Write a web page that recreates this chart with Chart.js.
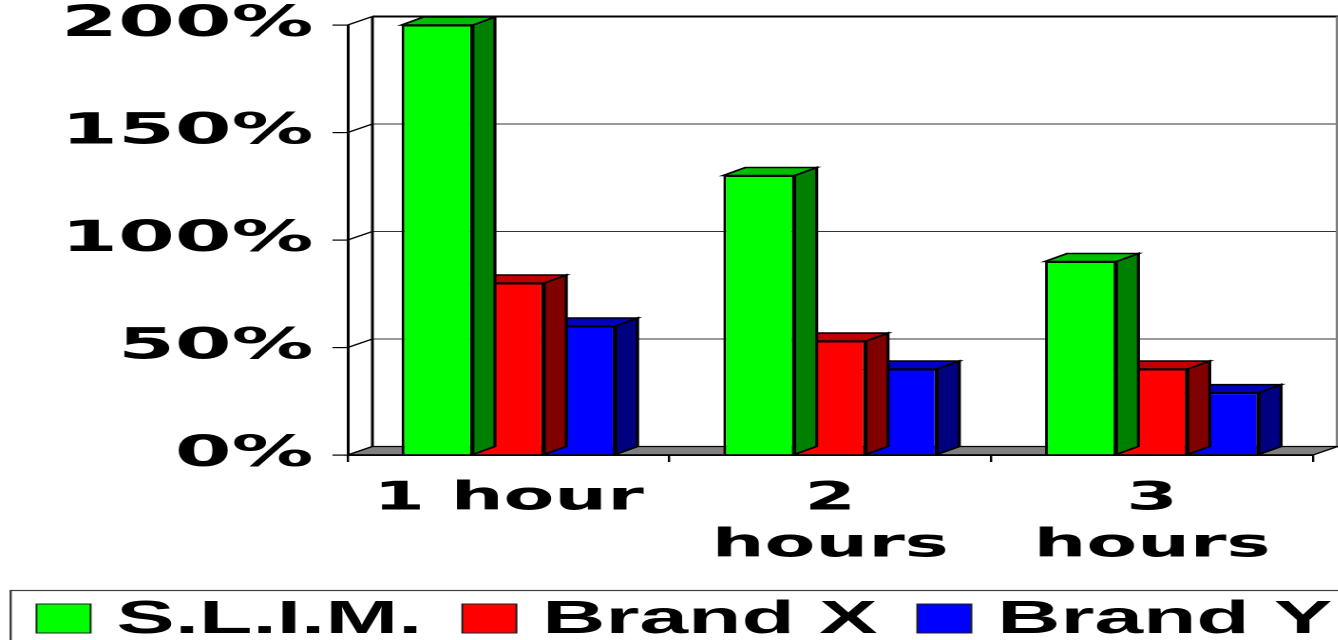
<!DOCTYPE html>
<html>
<head>
<meta charset="utf-8">
<title>S.L.I.M. vs Brand X vs Brand Y</title>
<script src="https://cdn.jsdelivr.net/npm/chart.js@4.4.1/dist/chart.umd.min.js"></script>
<style>
    html, body { margin: 0; padding: 0; background: #fff; overflow: hidden; }
    /* the reference is a 3D office chart stretched wide, so draw narrow and stretch */
    .chart-wrap { position: relative; width: 704.2px; height: 640px; transform: scaleX(1.9); transform-origin: 0 0; }
</style>
</head>
<body>
<div class="chart-wrap"><canvas id="hoursChart"></canvas></div>
<script>
var categories = ['1 hour', '2 hours', '3 hours'];
var seriesNames = ['S.L.I.M.', 'Brand X', 'Brand Y'];
var slimValues = [200, 130, 90];
var brandXValues = [80, 53, 40];
var brandYValues = [60, 40, 29];
var yTicks = [0, 50, 100, 150, 200];

(function() {
    'use strict';

    var frontColors = ['#00ff00', '#ff0000', '#0000ff'];
    var topColors = ['#00bf00', '#c00000', '#0000c0'];
    var sideColors = ['#008000', '#800000', '#000080'];

    var barDepth = { dx: 11.6, dy: -8 };
    var wallDepth = { dx: 13, dy: -8.5 };

    function poly(ctx, pts, fill) {
        ctx.beginPath();
        ctx.moveTo(pts[0][0], pts[0][1]);
        for (var i = 1; i < pts.length; i++) {
            ctx.lineTo(pts[i][0], pts[i][1]);
        }
        ctx.closePath();
        if (fill) {
            ctx.fillStyle = fill;
            ctx.fill();
        }
        ctx.stroke();
    }

    function line(ctx, x1, y1, x2, y2) {
        ctx.beginPath();
        ctx.moveTo(x1, y1);
        ctx.lineTo(x2, y2);
        ctx.stroke();
    }

    // legend drawn by hand: the stock one wraps the third item
    function drawLegend(chart) {
        var ctx = chart.ctx;
        var top = chart.scales.x.bottom;
        var x = 19.2;
        ctx.save();
        ctx.strokeStyle = '#404040';
        ctx.lineWidth = 1.2;
        ctx.strokeRect(5.6, top + 2.5, chart.width, 200);

        ctx.font = "bold 46px 'Liberation Sans', Arial, sans-serif";
        ctx.textBaseline = 'alphabetic';
        ctx.textAlign = 'left';
        chart.data.datasets.forEach(function(ds) {
            ctx.fillStyle = ds.backgroundColor;
            ctx.fillRect(x, top + 16, 28.5, 29);
            ctx.strokeStyle = '#202020';
            ctx.lineWidth = 1;
            ctx.strokeRect(x, top + 16, 28.5, 29);
            x += 28.5 + 13.6;
            ctx.fillStyle = '#000';
            ctx.fillText(ds.label, x, top + 45);
            x += ctx.measureText(ds.label).width + 21;
        });
        ctx.restore();
    }

    var threeD = {
        id: 'threeD',
        beforeDatasetsDraw: function(chart) {
            var ctx = chart.ctx;
            var a = chart.chartArea;
            var y = chart.scales.y;
            var dx = wallDepth.dx, dy = wallDepth.dy;
            ctx.save();

            // back wall grid lines + left wall connectors
            y.ticks.forEach(function(t) {
                var py = y.getPixelForValue(t.value);
                var isTop = t.value === y.max;
                ctx.strokeStyle = isTop ? '#000' : '#333';
                ctx.lineWidth = isTop ? 2 : 1;
                line(ctx, a.left + dx, py + dy, a.right + dx, py + dy);
                ctx.strokeStyle = '#000';
                ctx.lineWidth = 1.3;
                line(ctx, a.left, py, a.left + dx, py + dy);
            });

            ctx.strokeStyle = '#000';
            ctx.lineWidth = 1.5;
            line(ctx, a.left + dx, a.top + dy, a.left + dx, a.bottom + dy);
            ctx.strokeStyle = '#808080';
            ctx.lineWidth = 1;
            line(ctx, a.right + dx - 0.5, a.top + dy, a.right + dx - 0.5, a.bottom + dy);

            // floor
            ctx.strokeStyle = '#000';
            ctx.lineWidth = 1.2;
            poly(ctx, [
                [a.left, a.bottom],
                [a.right, a.bottom],
                [a.right + dx, a.bottom + dy],
                [a.left + dx, a.bottom + dy]
            ], '#808080');
            ctx.restore();
        },
        afterDatasetDraw: function(chart, args) {
            var ctx = chart.ctx;
            var i = args.index;
            var dx = barDepth.dx, dy = barDepth.dy;
            ctx.save();
            ctx.strokeStyle = '#000';
            ctx.lineWidth = 1.6;
            ctx.lineJoin = 'miter';
            args.meta.data.forEach(function(bar) {
                var p = bar.getProps(['x', 'y', 'base', 'width'], true);
                var l = p.x - p.width / 2, r = p.x + p.width / 2;
                poly(ctx, [[r, p.y], [r + dx, p.y + dy], [r + dx, p.base + dy], [r, p.base]], sideColors[i]);
                poly(ctx, [[l, p.y], [l + dx, p.y + dy], [r + dx, p.y + dy], [r, p.y]], topColors[i]);
            });
            ctx.restore();
        },
        afterDatasetsDraw: function(chart) {
            var ctx = chart.ctx;
            var a = chart.chartArea;
            ctx.save();
            ctx.strokeStyle = '#000';
            ctx.lineWidth = 1.5;
            line(ctx, a.left, a.bottom, a.right, a.bottom);
            ctx.restore();
        },
        afterDraw: function(chart) {
            drawLegend(chart);
        }
    };

    function makeDataset(name, values, idx) {
        return {
            label: name,
            data: values,
            backgroundColor: frontColors[idx],
            borderColor: '#000',
            borderWidth: 1.5,
            borderSkipped: 'start'
        };
    }

    function initChart() {
        var canvas = document.getElementById('hoursChart');
        if (!canvas || typeof Chart === 'undefined') return;

        new Chart(canvas.getContext('2d'), {
            type: 'bar',
            data: {
                labels: categories,
                datasets: [
                    makeDataset(seriesNames[0], slimValues, 0),
                    makeDataset(seriesNames[1], brandXValues, 1),
                    makeDataset(seriesNames[2], brandYValues, 2)
                ]
            },
            plugins: [threeD],
            options: {
                responsive: true,
                maintainAspectRatio: false,
                devicePixelRatio: 2,
                animation: false,
                layout: {
                    padding: { top: 25, right: 13.2, bottom: 52, left: 0 }
                },
                datasets: {
                    bar: { categoryPercentage: 0.665, barPercentage: 1 }
                },
                plugins: {
                    legend: { display: false },
                    tooltip: { enabled: false }
                },
                scales: {
                    x: {
                        afterFit: function(scale) {
                            scale.height = 133;
                        },
                        grid: {
                            offset: true,
                            drawOnChartArea: false,
                            tickLength: 7,
                            color: '#000',
                            lineWidth: 1.2
                        },
                        border: { display: true, color: '#000', width: 1.5 },
                        ticks: {
                            autoSkip: false,
                            maxRotation: 0,
                            padding: 14,
                            color: '#000',
                            font: { family: "'DejaVu Sans', Verdana, sans-serif", size: 39, weight: 'bold', lineHeight: 1.2 },
                            callback: function(value, index) {
                                var label = categories[index];
                                // the wider labels wrap onto two lines in the original
                                return index === 0 ? label : label.split(' ');
                            }
                        }
                    },
                    y: {
                        min: 0,
                        max: 200,
                        afterFit: function(scale) {
                            scale.width = 183;
                            scale.paddingTop = 0;
                            scale.paddingBottom = 0;
                        },
                        afterBuildTicks: function(scale) {
                            scale.ticks = yTicks.map(function(v) { return { value: v }; });
                        },
                        grid: {
                            drawOnChartArea: false,
                            tickLength: 8,
                            color: '#000',
                            lineWidth: 1.2
                        },
                        border: { display: true, color: '#000', width: 1.5 },
                        ticks: {
                            padding: 10,
                            color: '#000',
                            font: { family: "'DejaVu Sans', Verdana, sans-serif", size: 43, weight: 'bold' },
                            callback: function(value) { return value + '%'; }
                        }
                    }
                }
            }
        });
    }

    document.addEventListener('DOMContentLoaded', initChart);
})();
</script>
</body>
</html>
